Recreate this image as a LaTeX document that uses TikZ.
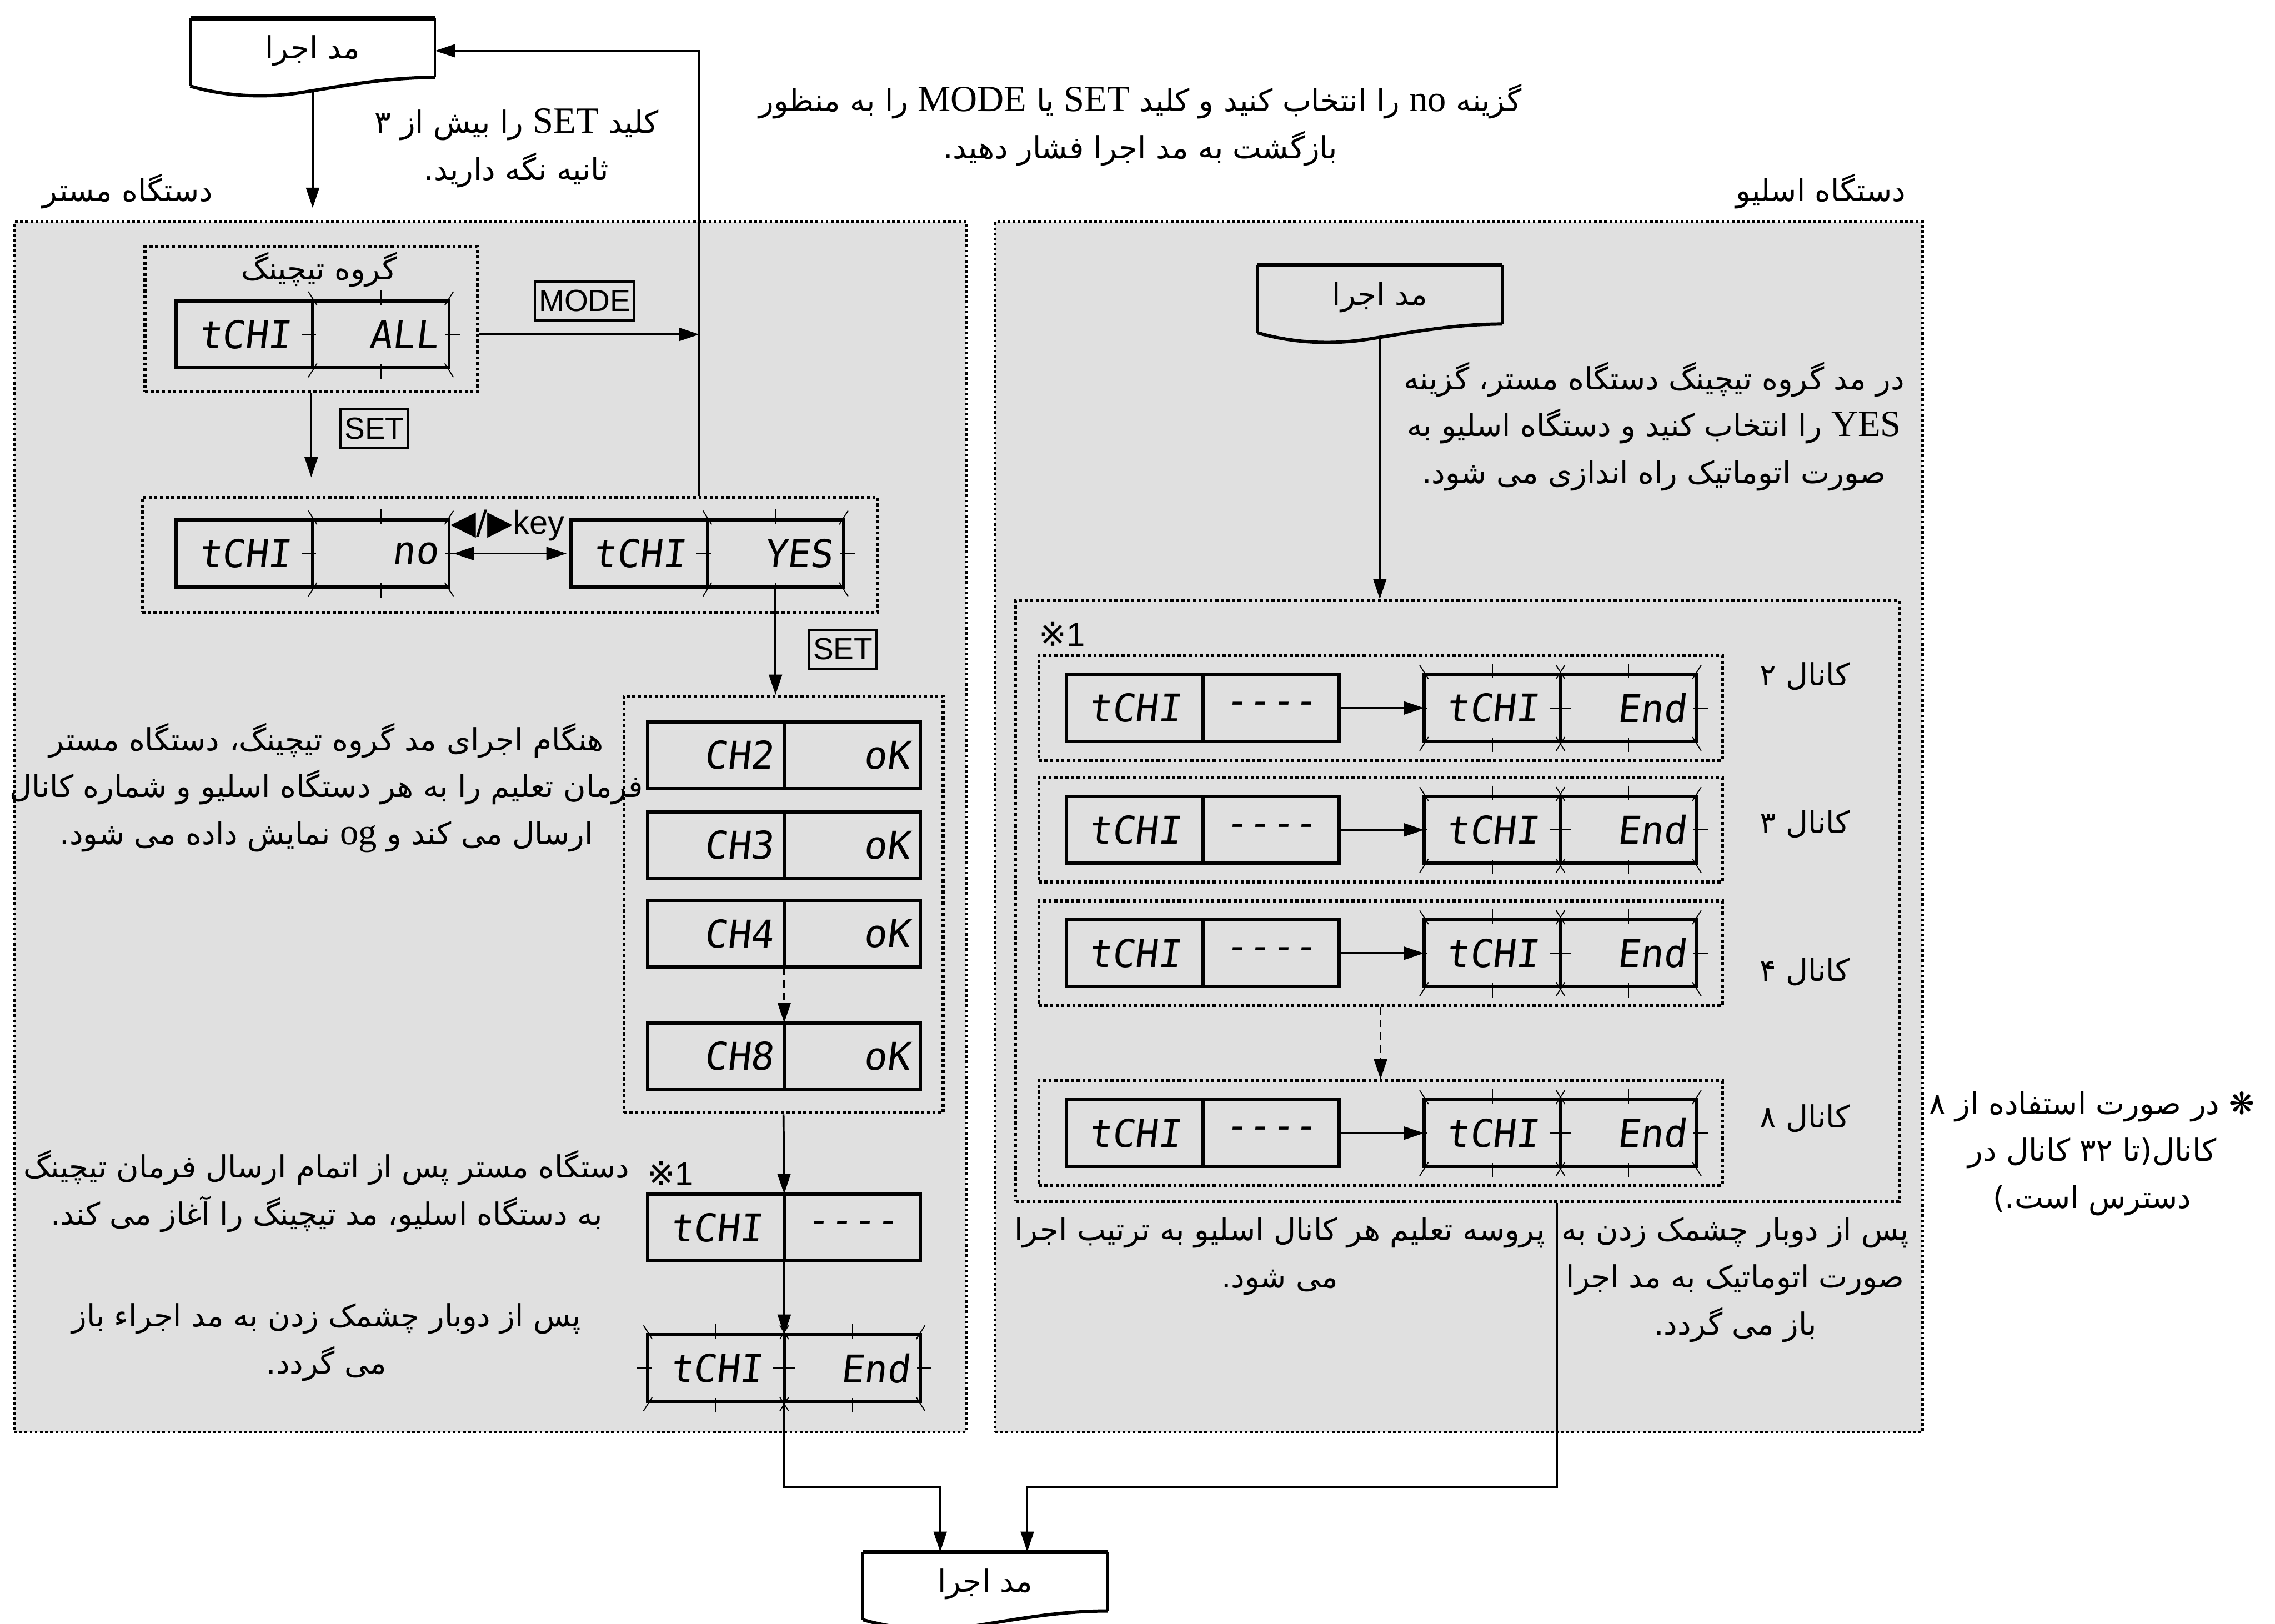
\documentclass[tikz,border=0pt]{standalone}
\usepackage{fontspec}
\usetikzlibrary{arrows.meta, positioning, calc}

\newfontfamily\fa[Script=Arabic]{DejaVu Sans}
\newfontfamily\latserif{Liberation Serif}
\newfontfamily\keyfont{Liberation Sans}
\newfontfamily\segfont[FakeSlant=0.12]{DejaVu Sans Mono}
\newfontfamily\symfont{DejaVu Sans}
\TeXXeTstate=1

\definecolor{panelgray}{RGB}{224,224,224}

\newcommand{\rl}[1]{\beginR #1\endR}
\newcommand{\lt}[1]{\beginL{\latserif\fontsize{14.5}{18.5}\selectfont #1}\endL}

% blinking marks round one half of a display
\newcommand{\blinkmarks}[1]{%
  \draw[blinkmark] ([yshift=1.5mm]#1.north) -- ([yshift=-0.5mm]#1.north);
  \draw[blinkmark] ([yshift=-1.5mm]#1.south) -- ([yshift=0.5mm]#1.south);
  \draw[blinkmark] ([xshift=-1.5mm]#1.west) -- ([xshift=0.5mm]#1.west);
  \draw[blinkmark] ([xshift=1.5mm]#1.east) -- ([xshift=-0.5mm]#1.east);
  \draw[blinkmark] ([shift={(-0.6mm,1.3mm)}]#1.north west) -- ([shift={(0.6mm,-0.6mm)}]#1.north west);
  \draw[blinkmark] ([shift={(0.6mm,1.3mm)}]#1.north east) -- ([shift={(-0.6mm,-0.6mm)}]#1.north east);
  \draw[blinkmark] ([shift={(-0.6mm,-1.3mm)}]#1.south west) -- ([shift={(0.6mm,0.6mm)}]#1.south west);
  \draw[blinkmark] ([shift={(0.6mm,-1.3mm)}]#1.south east) -- ([shift={(-0.6mm,0.6mm)}]#1.south east);
}

% document shape with wavy bottom
\newcommand{\runshape}[1]{%
  \draw[line width=0.9pt] ([yshift=0.8mm]#1.south east) -- (#1.north east);
  \draw[line width=0.9pt] (#1.north west) -- ([yshift=-0.4mm]#1.south west);
  \draw[line width=1.8pt] (#1.north west) -- (#1.north east);
  \draw[line width=1.3pt] ([yshift=-0.4mm]#1.south west)
    .. controls ($(#1.south west)!0.12!(#1.south east)+(0,-1.6mm)$) and ($(#1.south west)!0.28!(#1.south east)+(0,-2.2mm)$) .. ($(#1.south west)!0.45!(#1.south east)+(0,-1.3mm)$)
    .. controls ($(#1.south west)!0.62!(#1.south east)+(0,-0.4mm)$) and ($(#1.south west)!0.8!(#1.south east)+(0,0.8mm)$) .. ([yshift=0.8mm]#1.south east);
}

\begin{document}
\begin{tikzpicture}[
    x=0.2mm, y=-0.2mm,
    >={Triangle[length=2.8mm,width=1.8mm]},
    fatext/.style={font=\fa\fontsize{12}{18.5}\selectfont, align=center, inner sep=0pt},
    runbox/.style={fatext, minimum width=33.6mm, minimum height=8.8mm},
    panel/.style={draw, densely dotted, line width=1pt, fill=panelgray},
    dotbox/.style={draw, densely dotted, line width=1.2pt, fill=panelgray},
    seghalf/.style={draw, line width=1.3pt, minimum width=18.8mm, minimum height=9.2mm, inner sep=0pt, outer sep=0pt, font=\segfont\fontsize{15}{15}\selectfont},
    segval/.style={seghalf, text width=15.8mm, align=right},
    keybox/.style={draw, line width=0.9pt, font=\keyfont\fontsize{12}{12}\selectfont, inner sep=1.5pt, minimum height=5.4mm},
    conn/.style={line width=0.8pt},
    blinkmark/.style={line width=0.4pt}
]
\useasboundingbox (0,0) rectangle (1568,1119);

% panels
\node[panel, minimum width=131.2mm, minimum height=166.8mm] (master) at (338,570) {};
\node[panel, minimum width=127.8mm, minimum height=166.8mm] (slave) at (1005.5,570) {};
\node[fatext] (masterlbl) at (88,132) {\rl{دستگاه مستر}};
\node[fatext] (slavelbl) at (1255,132) {\rl{دستگاه اسلیو}};

% top
\node[runbox] (run1) at (215.5,35) {\rl{مد اجرا}};
\runshape{run1}
\node[fatext] (setnote) at (356,102) {\rl{کلید \lt{SET} را بیش از ۳}\\\rl{ثانیه نگه دارید.}};
\node[fatext] (nonote) at (786,86) {\rl{گزینه \lt{no} را انتخاب کنید و کلید \lt{SET} یا \lt{MODE} را به منظور}\\\rl{بازگشت به مد اجرا فشار دهید.}};
\draw[conn, ->] ([yshift=-1.2mm]run1.south) -- ++(0,80);

% master side
\node[dotbox, minimum width=45.8mm, minimum height=20mm] (grp1) at (214.5,220) {};
\node[fatext] (grp1lbl) at (220,186) {\rl{گروه تیچینگ}};
\node[seghalf] (alll) at (168.5,230.5) {tCHI};
\node[segval, right=0pt of alll] (allv) {ALL};
\blinkmarks{allv}

\node[dotbox, minimum width=101.4mm, minimum height=15.8mm] (grp2) at (351.5,382.5) {};
\node[seghalf] (nol) at (168.5,381.5) {tCHI};
\node[segval, right=0pt of nol] (nov) {no};
\node[seghalf] (yesl) at (440.5,381.5) {tCHI};
\node[segval, right=0pt of yesl] (yesv) {YES};
\blinkmarks{nov}
\blinkmarks{yesv}
\draw[conn, <->, shorten <=0.6mm, shorten >=0.6mm] (nov.east) -- (yesl.west);
\node[inner sep=0pt] (keylbl) at (350,362) {{\symfont\fontsize{13}{13}\selectfont ◀/▶}{\keyfont\fontsize{13}{13}\selectfont key}};

\coordinate (backx) at (482,38);
\draw[conn, ->] (grp2.north -| backx) |- (run1.east);
\draw[conn, ->] (allv.east -| grp1.east) -- (allv.east -| backx);
\node[keybox] (modekey) at (403,207.5) {MODE};
\draw[conn, ->] (grp1.south) -- ++(0,58);
\node[keybox] (setkey1) at (258,295.5) {SET};

\node[dotbox, minimum width=44mm, minimum height=57.4mm] (chgrp) at (540,623.5) {};
\draw[conn, ->] (yesv.south) -- (yesv.south |- chgrp.north);
\node[keybox] (setkey2) at (581,447.5) {SET};
\foreach \n/\y in {2/520.5, 3/582.5, 4/643.5, 8/728} {
  \node[segval] (chl\n) at (493.5,\y) {CH\n};
  \node[segval, right=0pt of chl\n] (chv\n) {oK};
}
\draw[conn, ->, densely dashed] (chl4.south east) -- (chl8.north east);

\node[fatext] (mnote1) at (225,543) {\rl{هنگام اجرای مد گروه تیچینگ، دستگاه مستر}\\\rl{فرمان تعلیم را به هر دستگاه اسلیو و شماره کانال}\\\rl{ارسال می کند و \lt{og} نمایش داده می شود.}};

\node[seghalf] (mwaitl) at (493.5,846) {tCHI};
\node[seghalf, right=0pt of mwaitl] (mwaitv) {----};
\node[inner sep=0pt] (mark1) at (462,809) {{\symfont\fontsize{13}{13}\selectfont ※}{\keyfont\fontsize{13}{13}\selectfont 1}};
\draw[conn, ->] (chgrp.south) -- (mwaitl.north east);
\node[fatext] (mnote2) at (225,821) {\rl{دستگاه مستر پس از اتمام ارسال فرمان تیچینگ}\\\rl{به دستگاه اسلیو، مد تیچینگ را آغاز می کند.}};

\node[seghalf] (mendl) at (493.5,943) {tCHI};
\node[segval, right=0pt of mendl] (mendv) {End};
\blinkmarks{mendl}
\blinkmarks{mendv}
\draw[conn, ->] (mwaitl.south east) -- (mendl.north east);
\node[fatext] (mnote3) at (225,925) {\rl{پس از دوبار چشمک زدن به مد اجراء باز}\\\rl{می گردد.}};

% slave side
\node[runbox] (run2) at (951,205) {\rl{مد اجرا}};
\runshape{run2}
\node[fatext] (slavenote) at (1140,294) {\rl{در مد گروه تیچینگ دستگاه مستر، گزینه}\\\rl{\lt{YES} را انتخاب کنید و دستگاه اسلیو به}\\\rl{صورت اتوماتیک راه اندازی می شود.}};

\node[dotbox, minimum width=121.8mm, minimum height=82.8mm] (sgrp) at (1004.5,621) {};
\draw[conn, ->] ([yshift=-1.2mm]run2.south) -- (run2.south |- sgrp.north);
\node[inner sep=0pt] (mark2) at (732,437) {{\symfont\fontsize{13}{13}\selectfont ※}{\keyfont\fontsize{13}{13}\selectfont 1}};

\foreach \i/\y/\ly/\c in {1/488/466/۲, 2/572/568/۳, 3/657/670/۴, 4/781/771/۸} {
  \node[dotbox, minimum width=94.2mm, minimum height=14.4mm] (row\i) at (951.5,\y) {};
  \node[seghalf] (rwl\i) at (782,\y) {tCHI};
  \node[seghalf, right=0pt of rwl\i] (rwv\i) {----};
  \node[seghalf] (rel\i) at (1028.5,\y) {tCHI};
  \node[segval, right=0pt of rel\i] (rev\i) {End};
  \blinkmarks{rel\i}
  \blinkmarks{rev\i}
  \draw[conn, ->] (rwv\i.east) -- (rel\i.west);
  \node[fatext] (chlbl\i) at (1244,\ly) {\rl{کانال \c}};
}
\draw[conn, ->, densely dashed] (row3.south) -- (row4.north);

\node[fatext] (slavestep) at (882,866) {\rl{پروسه تعلیم هر کانال اسلیو به ترتیب اجرا}\\\rl{می شود.}};
\node[fatext] (slaveend) at (1196,882) {\rl{پس از دوبار چشمک زدن به}\\\rl{صورت اتوماتیک به مد اجرا}\\\rl{باز می گردد.}};
\node[fatext] (sidenote) at (1442,795) {\rl{{\symfont ❋} در صورت استفاده از ۸}\\\rl{کانال(تا ۳۲ کانال در}\\\rl{دسترس است.)}};

% bottom
\node[runbox] (run3) at (679,1092) {\rl{مد اجرا}};
\runshape{run3}
\draw[conn, ->] (mendl.south east) -- ++(0,59) -| ([xshift=-6.2mm]run3.north);
\coordinate (sjoin) at (1073,1025);
\draw[conn, ->] (sgrp.south -| sjoin) -- (sjoin) -| ([xshift=5.8mm]run3.north);

\end{tikzpicture}
\end{document}
